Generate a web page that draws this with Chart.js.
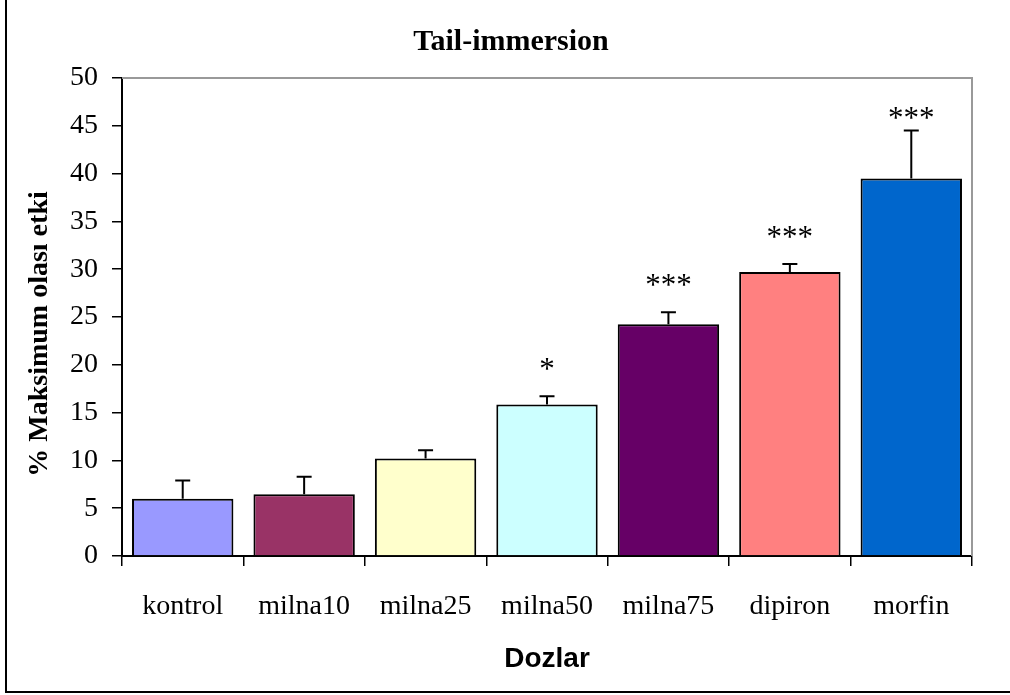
<!DOCTYPE html>
<html>
<head>
<meta charset="utf-8">
<script src="https://cdn.jsdelivr.net/npm/chart.js@4"></script>
<style>
  html, body { margin: 0; padding: 0; background: #fff; }
  #wrap { width: 1010px; height: 695px; position: relative; }
</style>
</head>
<body>
<div id="wrap"><canvas id="myChart" width="1010" height="695"></canvas></div>
<script>
const categories = ['kontrol', 'milna10', 'milna25', 'milna50', 'milna75', 'dipiron', 'morfin'];
const values = [6.0, 6.45, 10.2, 15.85, 24.25, 29.7, 39.5];
const errors = [1.9, 1.85, 0.85, 0.85, 1.25, 0.85, 5.0];
const stars = ['', '', '', '*', '***', '***', '***'];
const barColors = ['#9999FF', '#993366', '#FFFFCC', '#CCFFFF', '#660066', '#FF8080', '#0066CC'];
const yTicks = [0, 5, 10, 15, 20, 25, 30, 35, 40, 45, 50];

const serif = '"Liberation Serif", "Times New Roman", serif';
const sans = '"Liberation Sans", Arial, sans-serif';

// error bars, stars, frame and titles
const extras = {
  id: 'extras',
  afterDatasetsDraw(chart) {
    const c = chart.ctx;
    const area = chart.chartArea;
    const meta = chart.getDatasetMeta(0);
    const y = chart.scales.y;

    c.save();
    // grey top/right frame of the plot area
    c.strokeStyle = '#999999';
    c.lineWidth = 2;
    c.beginPath();
    c.moveTo(area.left, area.top);
    c.lineTo(area.right, area.top);
    c.lineTo(area.right, area.bottom);
    c.stroke();

    c.strokeStyle = '#000';
    c.lineWidth = 2;
    meta.data.forEach((bar, i) => {
      const yTop = y.getPixelForValue(values[i] + errors[i]);
      const yVal = y.getPixelForValue(values[i]);
      c.beginPath();
      c.moveTo(bar.x, yVal);
      c.lineTo(bar.x, yTop);
      c.moveTo(bar.x - 7.5, yTop);
      c.lineTo(bar.x + 7.5, yTop);
      c.stroke();

      if (stars[i]) {
        c.fillStyle = '#000';
        c.font = '31px ' + serif;
        c.textAlign = 'center';
        c.textBaseline = 'alphabetic';
        // the top one sits closer to its error bar in the original
        c.fillText(stars[i], bar.x, yTop - (i == stars.length - 1 ? 3 : 17));
      }
    });

    // outer border (only left and bottom visible in the picture)
    c.lineWidth = 2;
    c.strokeRect(6, -10, 1030, 702);

    // chart title
    c.fillStyle = '#000';
    c.textAlign = 'center';
    c.textBaseline = 'middle';
    c.font = 'bold 30px ' + serif;
    c.fillText('Tail-immersion', 511, 42);

    // x axis title
    c.font = 'bold 28px ' + sans;
    c.fillText('Dozlar', 547, 659);

    // y axis title
    c.translate(40, 334);
    c.rotate(-Math.PI / 2);
    c.font = 'bold 28px ' + serif;
    c.fillText('% Maksimum olası etki', 0, 0);
    c.restore();
  }
};

const ctx = document.getElementById('myChart');
new Chart(ctx, {
  type: 'bar',
  data: {
    labels: categories,
    datasets: [
      {
        data: values,
        backgroundColor: barColors,
        borderColor: '#000',
        borderWidth: 2,
        categoryPercentage: 1,
        barPercentage: 0.835,
      },
    ],
  },
  options: {
    responsive: false,
    animation: false,
    layout: {
      padding: { top: 78, left: 0, right: 38, bottom: 0 },
    },
    scales: {
      x: {
        afterFit: (scale) => { scale.height = 139; },
        border: { display: true, color: '#000', width: 2 },
        grid: {
          offset: true,
          drawOnChartArea: false,
          drawTicks: true,
          tickLength: 10,
          color: '#000',
          lineWidth: 1.5,
        },
        ticks: {
          color: '#000',
          font: { family: serif, size: 28 },
          padding: 24,
          maxRotation: 0,
        },
      },
      y: {
        min: 0,
        max: 50,
        afterFit: (scale) => { scale.width = 122; },
        afterBuildTicks: (scale) => { scale.ticks = yTicks.map((v) => ({ value: v })); },
        border: { display: true, color: '#000', width: 2 },
        grid: {
          drawOnChartArea: false,
          drawTicks: true,
          tickLength: 10,
          color: '#000',
          lineWidth: 1.5,
        },
        ticks: {
          color: '#000',
          font: { family: serif, size: 28 },
          padding: 14,
        },
      },
    },
    plugins: {
      legend: { display: false },
      tooltip: { enabled: false },
    },
  },
  plugins: [extras],
});
</script>
</body>
</html>
